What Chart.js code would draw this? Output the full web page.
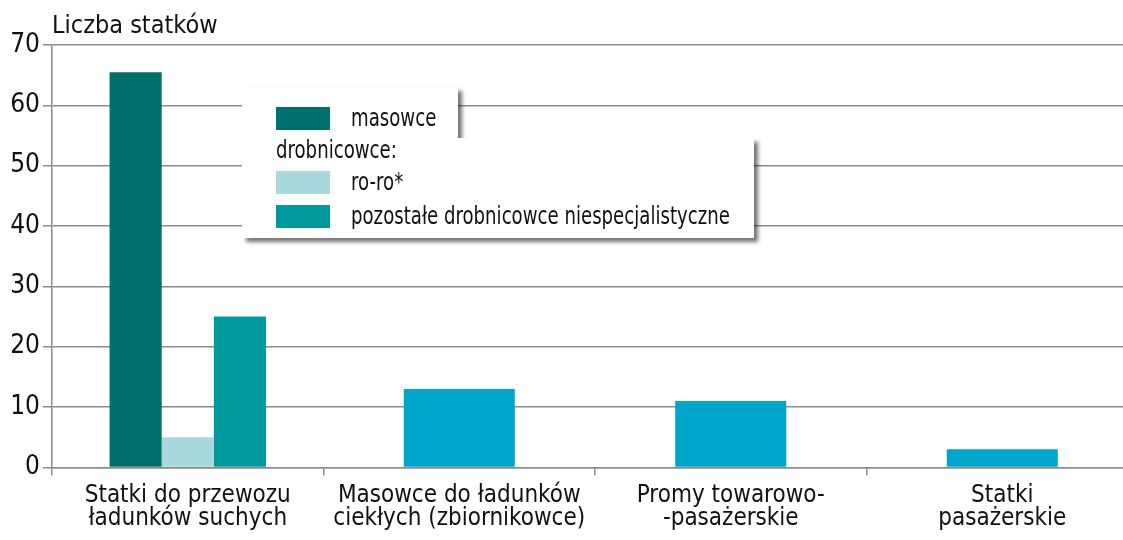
<!DOCTYPE html>
<html lang="pl">
<head>
<meta charset="utf-8">
<title>Liczba statków</title>
<script src="https://cdn.jsdelivr.net/npm/chart.js@4/dist/chart.umd.min.js"></script>
<style>
    html, body { margin: 0; padding: 0; background: #fff; overflow: hidden; }
    #wrap { position: relative; width: 1138px; height: 540px; }
    .lg { position: absolute; background: #fff; font-family: 'Liberation Sans Narrow', 'DejaVu Sans Condensed', sans-serif; font-size: 24px; color: #111; }
    #lg-top { left: 242px; top: 88px; width: 216px; height: 52px; box-shadow: 4px 3px 4px rgba(0,0,0,0.55); z-index: 2; }
    #lg-bottom { left: 242px; top: 138px; width: 512px; height: 100px; box-shadow: 4px 4px 4px rgba(0,0,0,0.55); z-index: 3; }
    .row { position: absolute; left: 0; height: 26px; line-height: 26px; white-space: nowrap; }
    .sw { position: absolute; left: 34px; width: 54px; height: 23px; top: 2px; }
    .txt { position: absolute; left: 109px; transform: scaleX(0.84); transform-origin: left center; }
</style>
</head>
<body>
<div id="wrap">
    <canvas id="chart"></canvas>
    <div id="lg-top" class="lg"></div>
    <div id="lg-bottom" class="lg"></div>
</div>
<script>
const categories = [
    ['Statki do przewozu', 'ładunków suchych'],
    ['Masowce do ładunków', 'ciekłych (zbiornikowce)'],
    ['Promy towarowo-', '-pasażerskie'],
    ['Statki', 'pasażerskie']
];
const masowce = [65.5, null, null, null];
const roro = [5, null, null, null];
const pozostale = [25, null, null, null];
const pozostaleTypy = [null, 13, 11, 3];
const yTicks = [0, 10, 20, 30, 40, 50, 60, 70];

const colors = {
    masowce: '#00706c',
    roro: '#a9d9dd',
    pozostale: '#009a9e',
    inne: '#00a5cc'
};
const FONT = "'Liberation Sans Narrow', 'DejaVu Sans Condensed', sans-serif";
const GRID = '#8c8c8c';

// legend, drawn as html boxes with a shadow like in the print
const legendTop = document.getElementById('lg-top');
const legendBottom = document.getElementById('lg-bottom');
legendTop.innerHTML = `<div class="row" style="top:17px"><span class="sw" style="background:${colors.masowce}"></span><span class="txt">masowce</span></div>`;
legendBottom.innerHTML = `
    <div class="row" style="top:-1px"><span class="txt" style="left:34px">drobnicowce:</span></div>
    <div class="row" style="top:31px"><span class="sw" style="background:${colors.roro}"></span><span class="txt">ro-ro*</span></div>
    <div class="row" style="top:65px"><span class="sw" style="background:${colors.pozostale}"></span><span class="txt">pozostałe drobnicowce niespecjalistyczne</span></div>`;

const titlePlugin = {
    id: 'axisTitle',
    afterDraw(chart) {
        const ctx = chart.ctx;
        ctx.save();
        ctx.font = `25px ${FONT}`;
        ctx.fillStyle = '#111';
        ctx.textBaseline = 'alphabetic';
        ctx.fillText('Liczba statków', chart.chartArea.left, 33);
        ctx.restore();
    }
};

new Chart(document.getElementById('chart'), {
    type: 'bar',
    data: {
        labels: categories,
        datasets: [
            { label: 'masowce', data: masowce, backgroundColor: colors.masowce, barPercentage: 1 },
            { label: 'ro-ro*', data: roro, backgroundColor: colors.roro, barPercentage: 1 },
            { label: 'pozostałe drobnicowce niespecjalistyczne', data: pozostale, backgroundColor: colors.pozostale, barPercentage: 1 },
            { label: 'pozostałe', data: pozostaleTypy, backgroundColor: colors.inne, barPercentage: 0.71 }
        ]
    },
    options: {
        responsive: true,
        maintainAspectRatio: false,
        animation: false,
        skipNull: true,
        categoryPercentage: 0.576,
        layout: { padding: { top: 45, right: 0, bottom: 1, left: 0 } },
        plugins: {
            legend: { display: false },
            tooltip: { enabled: false }
        },
        scales: {
            x: {
                grid: { offset: true, drawOnChartArea: false, color: GRID, lineWidth: 1.5, tickLength: 8 },
                border: { color: GRID, width: 1.5 },
                ticks: { color: '#111', font: { family: FONT, size: 24, lineHeight: 0.95 }, maxRotation: 0, autoSkip: false, padding: 9 }
            },
            y: {
                min: 0,
                max: 70,
                afterFit(scale) { scale.width = 52; },
                afterBuildTicks(scale) { scale.ticks = yTicks.map(v => ({ value: v })); },
                grid: { color: GRID, lineWidth: 1.5, tickLength: 9 },
                border: { color: GRID, width: 1.5 },
                ticks: { color: '#111', font: { family: FONT, size: 26 }, padding: 3 }
            }
        }
    },
    plugins: [titlePlugin]
});
</script>
</body>
</html>
